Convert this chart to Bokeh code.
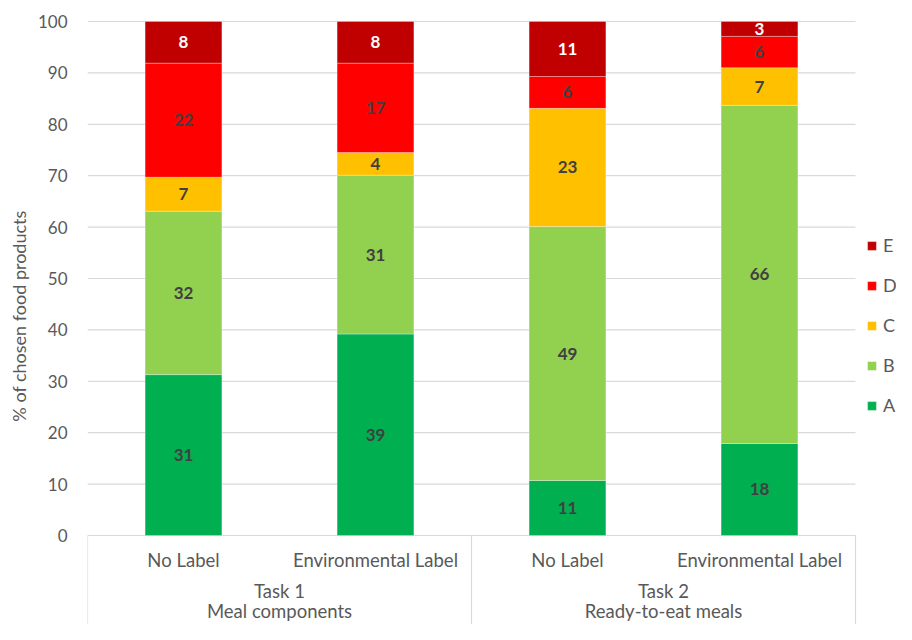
from bokeh.plotting import figure
from bokeh.models import ColumnDataSource, Range1d, FixedTicker, Legend, LegendItem, Title
from bokeh.core.properties import value
from bokeh.embed import file_html
from bokeh.resources import INLINE

# ---- data ----
categories = ["No Label", "Environmental Label", "No Label", "Environmental Label"]
task_names = ["Task 1", "Task 2"]
task_subtitles = ["Meal components", "Ready-to-eat meals"]
grades = ["A", "B", "C", "D", "E"]
grade_A = [31.3, 39.2, 10.7, 17.9]
grade_B = [31.8, 30.9, 49.4, 65.8]
grade_C = [6.6, 4.4, 23.0, 7.3]
grade_D = [22.2, 17.4, 6.2, 6.1]
grade_E = [8.1, 8.1, 10.7, 2.9]
y_ticks = [0, 10, 20, 30, 40, 50, 60, 70, 80, 90, 100]
y_title = "% of chosen food products"

# ---- styles ----
colors = ["#00B050", "#92D050", "#FFC000", "#FF0000", "#C00000"]
label_colors = ["#404040", "#404040", "#404040", "#404040", "#FFFFFF"]
FONT = "Lato"
GRID = "#D9D9D9"
TXT = "#595959"

W, H = 896, 624
Y0_PX = 535            # pixel row of value 0
PPU_Y = (Y0_PX - 21) / 100.0   # px per percent
PPU_X = 192.0          # px per category
y_start = -(H - Y0_PX) / PPU_Y
y_end = 100 + (21 - 7) / PPU_Y
x_end = (W - 87) / PPU_X

p = figure(width=W, height=H, output_backend="svg", toolbar_location=None,
           x_range=Range1d(0, x_end), y_range=Range1d(y_start, y_end),
           min_border_left=87, min_border_right=0, min_border_top=7, min_border_bottom=0,
           x_axis_location=None)
p.outline_line_color = None
p.xgrid.visible = False
p.ygrid.visible = False
p.background_fill_color = "white"

yax = p.yaxis[0]
yax.ticker = FixedTicker(ticks=y_ticks)
yax.axis_line_color = None
yax.major_tick_line_color = None
yax.minor_tick_line_color = None
yax.major_tick_out = 0
yax.major_tick_in = 0
yax.major_label_standoff = 20
yax.major_label_text_font = FONT
yax.major_label_text_font_size = "17px"
yax.major_label_text_color = TXT

# y-axis title, shifted up to sit where the reference has it
p.add_layout(Title(text=y_title, align="center", offset=34, text_font=FONT,
                   text_font_size="18px", text_font_style="normal", text_color=TXT,
                   standoff=10), "left")

n = len(categories)
xs = [i + 0.5 for i in range(n)]

# gridlines
p.segment(x0=[0] * len(y_ticks), x1=[n] * len(y_ticks), y0=y_ticks, y1=y_ticks,
          line_color=GRID, line_width=1.2)
# category box lines
box_x = [0, n / 2, n]
p.segment(x0=box_x, x1=box_x, y0=[0] * 3, y1=[y_start] * 3, line_color=GRID, line_width=1.2)

src = ColumnDataSource(dict(x=xs, A=grade_A, B=grade_B, C=grade_C, D=grade_D, E=grade_E))
renderers = p.vbar_stack(grades, x="x", width=0.4, source=src, fill_color=colors,
                         line_color="white", line_width=0.6, line_alpha=0.5)

# value labels
series = [grade_A, grade_B, grade_C, grade_D, grade_E]
lx, ly, lt, lc = [], [], [], []
for i in range(n):
    bottom = 0.0
    for k, s in enumerate(series):
        v = s[i]
        lx.append(xs[i])
        ly.append(bottom + v / 2)
        lt.append(str(int(round(v))))
        lc.append(label_colors[k])
        bottom += v
p.text(x=lx, y=ly, text=lt, text_color=lc, text_font=value(FONT), text_font_size="17px",
       text_font_style="bold", text_align="center", text_baseline="middle")

# category labels
p.text(x=xs, y=[-(559 - Y0_PX) / PPU_Y] * n, text=categories, text_color=TXT,
       text_font=value(FONT), text_font_size="18.5px", text_align="center", text_baseline="middle")
task_x = [1.0, 3.0]
p.text(x=task_x, y=[-(590 - Y0_PX) / PPU_Y] * 2, text=task_names, text_color=TXT,
       text_font=value(FONT), text_font_size="18.5px", text_align="center", text_baseline="middle")
p.text(x=task_x, y=[-(610 - Y0_PX) / PPU_Y] * 2, text=task_subtitles, text_color=TXT,
       text_font=value(FONT), text_font_size="18.5px", text_align="center", text_baseline="middle")

items = [LegendItem(label=g, renderers=[r]) for g, r in zip(grades, renderers)][::-1]
legend = Legend(items=items, location=(779, 208), padding=0, margin=0,
                border_line_color=None, background_fill_alpha=0,
                glyph_width=11, glyph_height=11, label_height=20, spacing=18,
                label_standoff=6, label_text_font=FONT, label_text_font_size="18px",
                label_text_color=TXT)
p.add_layout(legend)

open("out.html", "w").write(file_html(p, INLINE))
